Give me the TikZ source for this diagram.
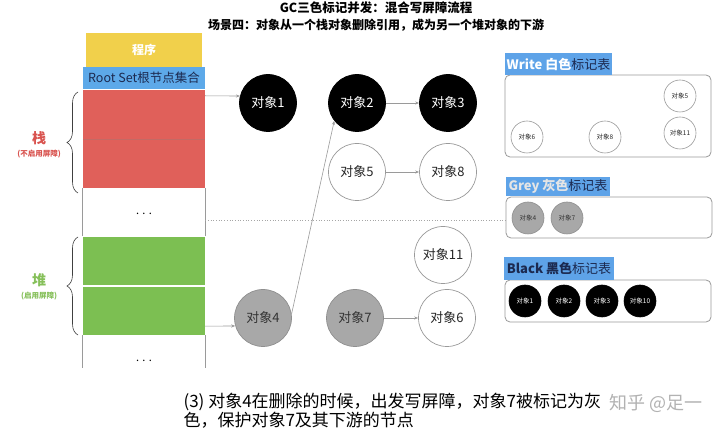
\documentclass[tikz,border=0pt]{standalone}
\usepackage{fontspec}
\setmainfont{Noto Sans CJK SC}
\usetikzlibrary{arrows.meta,decorations.pathreplacing}
\definecolor{progyellow}{HTML}{F1D04B}
\definecolor{rootblue}{HTML}{5DA9E9}
\definecolor{stackred}{HTML}{E0605A}
\definecolor{heapgreen}{HTML}{7CBF52}
\definecolor{objgray}{HTML}{A8A8A8}
\definecolor{linegray}{HTML}{9A9A9A}
\definecolor{labelblue}{HTML}{5EA3E8}
\definecolor{navy}{HTML}{1C2A50}
\definecolor{redtxt}{HTML}{D9534F}
\definecolor{greentxt}{HTML}{86C05A}
\tikzset{
  obj/.style={circle, minimum size=57pt, inner sep=0pt, font=\fontsize{13}{13}\selectfont, draw=linegray, line width=0.7pt},
  blk/.style={obj, fill=black, text=white, draw=black},
  wht/.style={obj, fill=white, text=black!85},
  gry/.style={obj, fill=objgray, text=black!80, draw=objgray!85!black},
  sobj/.style={circle, minimum size=32pt, inner sep=0pt, font=\fontsize{6.5}{6.5}\selectfont, draw=linegray, line width=0.6pt},
  sblk/.style={sobj, fill=black, text=white, draw=black},
  swht/.style={sobj, fill=white, text=black!85},
  sgry/.style={sobj, fill=objgray, text=black!80, draw=objgray!85!black},
  arr/.style={draw=linegray, line width=0.6pt, -{Stealth[length=4pt,width=3pt]}},
  colbox/.style={rectangle, inner sep=0pt, minimum width=122pt},
  tbl/.style={rectangle, rounded corners=5pt, draw=linegray, line width=0.8pt, fill=white, inner sep=0pt, minimum width=206pt},
  tlabel/.style={rectangle, fill=labelblue, inner sep=0pt, font=\fontsize{13}{13}\selectfont},
  bracestyle/.style={decorate, decoration={brace, amplitude=11pt}, draw=black!75, line width=0.6pt},
}
\begin{document}
\begin{tikzpicture}[x=1pt,y=-1pt]
\useasboundingbox (0,0) rectangle (720,435);
\fill[white] (0,0) rectangle (720,435);

% titles
\node[font=\bfseries\fontsize{12.5}{12.5}\selectfont] (title) at (376,8) {GC三色标记并发：混合写屏障流程};
\node[font=\bfseries\fontsize{12}{12}\selectfont] (subtitle) at (376,25) {场景四：对象从一个栈对象删除引用，成为另一个堆对象的下游};

% left column
\node[colbox, fill=progyellow, minimum width=116pt, minimum height=34pt, text=white, font=\bfseries\fontsize{12}{12}\selectfont] (prog) at (144,50) {程序};
\node[colbox, fill=rootblue, minimum height=22pt, text=navy, font=\fontsize{12.5}{12.5}\selectfont] (root) at (144,78) {Root Set根节点集合};
\node[colbox, fill=stackred, minimum height=49pt] (stack1) at (144,114.5) {};
\node[colbox, fill=stackred, minimum height=49pt] (stack2) at (144,163.5) {};
\draw[stackred!70!gray, line width=0.8pt] (stack1.south west) -- (stack1.south east);
\node[colbox, fill=white, minimum height=48pt] (dots) at (144,212) {};
\draw[linegray, line width=0.7pt] (dots.north west) -- (dots.south west) (dots.north east) -- (dots.south east);
\node[font=\fontsize{11}{11}\selectfont] (dotstxt) at (144,214) {. . .};
\node[colbox, fill=heapgreen, minimum height=48pt] (heap1) at (144,261) {};
\node[colbox, fill=heapgreen, minimum height=48pt] (heap2) at (144,311) {};
\draw[linegray, line width=0.7pt] (heap2.south west) -- ++(0,33) (heap2.south east) -- ++(0,33);
\node[font=\fontsize{11}{11}\selectfont] (dotstxt2) at (144,361) {. . .};

% braces and labels
\draw[bracestyle] (78,193) -- (78,92);
\draw[bracestyle] (78,335) -- (78,237);
\node[text=redtxt, font=\bfseries\fontsize{14}{14}\selectfont] (zhan) at (39,138) {栈};
\node[text=redtxt, font=\bfseries\fontsize{7.5}{7.5}\selectfont] (zhansub) at (39,154) {(不启用屏障)};
\node[text=greentxt, font=\bfseries\fontsize{14}{14}\selectfont] (dui) at (39,280) {堆};
\node[text=greentxt, font=\bfseries\fontsize{7.5}{7.5}\selectfont] (duisub) at (39,296) {(启用屏障)};

% right tables
\node[tbl, minimum height=82pt] (wtab) at (608,116) {};
\node[tlabel, minimum width=107pt, minimum height=22pt] (wlab) at (558.5,64) {\textcolor{white}{\bfseries Write 白色}\textcolor{navy}{标记表}};
\node[tbl, minimum height=41pt] (gtab) at (609,217.5) {};
\node[tlabel, minimum width=104pt, minimum height=19pt] (glab) at (558,186.5) {\textcolor{white!80!gray}{\bfseries Grey 灰色}\textcolor{navy}{标记表}};
\node[tbl, minimum height=42pt] (btab) at (608,301) {};
\node[tlabel, minimum width=110pt, minimum height=23pt] (blab) at (559,268.5) {\textcolor{navy}{\bfseries Black 黑色}\textcolor{navy}{标记表}};

% dotted separator
\draw[dotted, black!35, line width=0.7pt] ([yshift=-8pt]dots.east) -- ([yshift=-8pt]dots.east -| gtab.west);

% small objects
\node[swht] (w5) at (680,96) {对象5};
\node[swht] (w6) at (527,137) {对象6};
\node[swht] (w8) at (605,137) {对象8};
\node[swht] (w11) at (680,133) {对象11};
\node[sgry] (g4) at (528,218) {对象4};
\node[sgry] (g7) at (567,218) {对象7};
\node[sblk] (b1) at (525,301) {对象1};
\node[sblk] (b2) at (564,301) {对象2};
\node[sblk] (b3) at (602,301) {对象3};
\node[sblk] (b10) at (640,301) {对象10};

% big objects
\node[blk] (n1) at (268,103) {对象1};
\node[blk] (n2) at (357,103) {对象2};
\node[blk] (n3) at (448,103) {对象3};
\node[wht] (n5) at (357,172) {对象5};
\node[wht] (n8) at (448,172) {对象8};
\node[wht] (n11) at (443,255) {对象11};
\node[gry] (n4) at (263,318) {对象4};
\node[gry] (n7) at (355,318) {对象7};
\node[wht] (n6) at (447,318) {对象6};

% connectors
\draw[arr] ([yshift=-6pt]stack1.north east) -- (n1.166);
\draw[arr] ([yshift=9pt]heap2.south east) -- (n4.196);
\draw[arr] (n4.8) -- (n2.218);
\draw[arr] (n2) -- (n3);
\draw[arr] (n5) -- (n8);
\draw[arr] (n7) -- (n6);

% caption
\node[anchor=west, align=left, font=\fontsize{17}{19}\selectfont] (caption) at (180,411) {(3) 对象4在删除的时候，出发写屏障，对象7被标记为灰\\色，保护对象7及其下游的节点};
\node[text=black!30, font=\fontsize{18}{18}\selectfont] (wm) at (656,403) {知乎 @足一};
\end{tikzpicture}
\end{document}
